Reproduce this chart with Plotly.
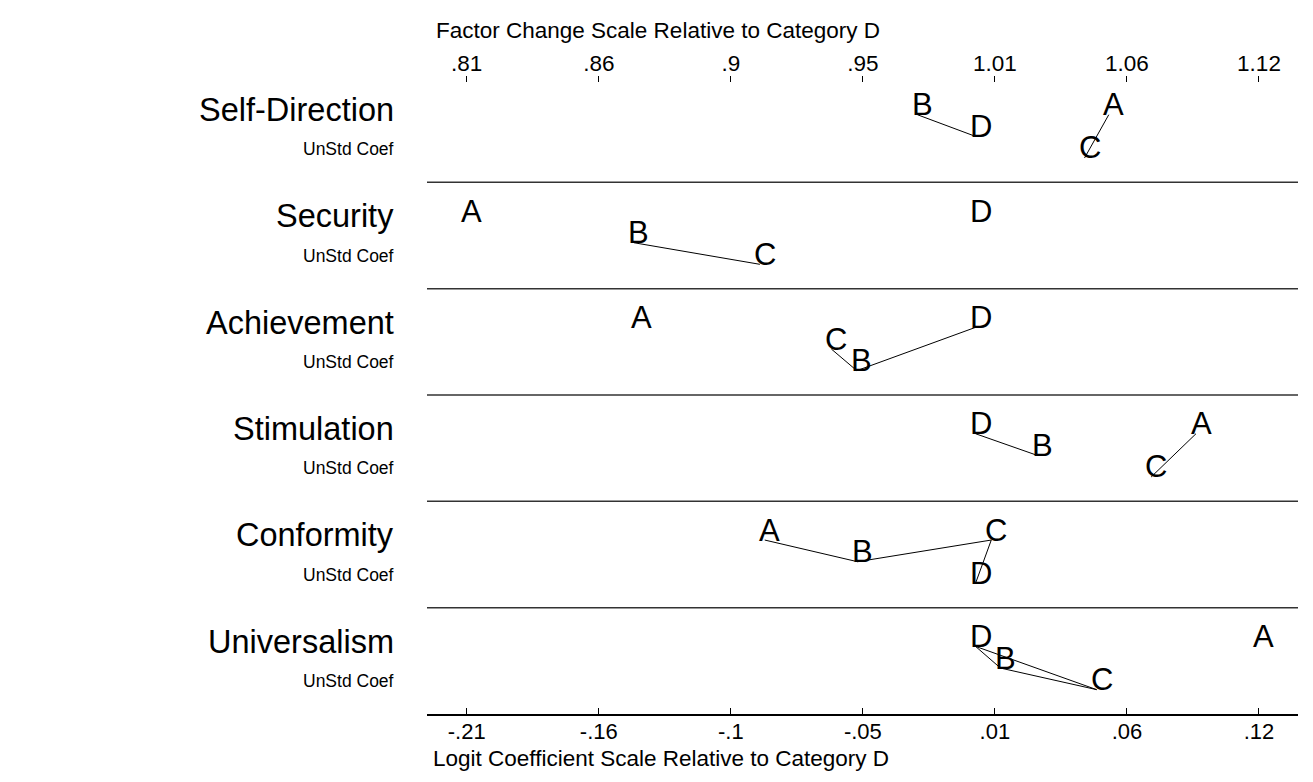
import plotly.graph_objects as go

# ---------------- data ----------------
rows = ["Self-Direction", "Security", "Achievement", "Stimulation", "Conformity", "Universalism"]
row_sublabel = "UnStd Coef"
categories = ["A", "B", "C", "D"]

# logit coefficients relative to category D
coef_A = [0.055, -0.210, -0.140, 0.091, -0.087, 0.117]
coef_B = [-0.024, -0.141, -0.049, 0.0255, -0.0487, 0.0103]
coef_C = [0.045, -0.089, -0.0595, 0.0725, 0.0065, 0.050]
coef_D = [0.0, 0.0, 0.0, 0.0, 0.0, 0.0]

# vertical tier of each letter inside its row (1 = top)
level_A = [1, 1, 1, 1, 1, 1]
level_B = [1, 2, 3, 2, 2, 2]
level_C = [3, 3, 2, 3, 1, 3]
level_D = [2, 1, 1, 1, 3, 1]

# pairs connected by a line (not significantly different)
links = [
    [("B", "D"), ("A", "C")],
    [("B", "C")],
    [("C", "B"), ("B", "D")],
    [("D", "B"), ("A", "C")],
    [("A", "B"), ("B", "C"), ("C", "D")],
    [("D", "B"), ("D", "C"), ("B", "C")],
]

tick_vals = [-0.21, -0.1555, -0.101, -0.0465, 0.008, 0.0625, 0.117]
bottom_tick_text = ["-.21", "-.16", "-.1", "-.05", ".01", ".06", ".12"]
top_tick_text = [".81", ".86", ".9", ".95", "1.01", "1.06", "1.12"]

top_title = "Factor Change Scale Relative to Category D"
bottom_title = "Logit Coefficient Scale Relative to Category D"

# ---------------- layout constants ----------------
FONT = "Liberation Sans, Arial, Helvetica, sans-serif"
level_frac = [0.364, 0.568, 0.771]
n_rows = len(rows)
x_range = [-0.2264, 0.1331]

coef = {"A": coef_A, "B": coef_B, "C": coef_C, "D": coef_D}
level = {"A": level_A, "B": level_B, "C": level_C, "D": level_D}


def ypos(r, lev):
    return (n_rows - r) - level_frac[lev - 1]


fig = go.Figure()

# connecting lines
for r, pairs in enumerate(links):
    for a, b in pairs:
        fig.add_trace(go.Scatter(
            x=[coef[a][r], coef[b][r]],
            y=[ypos(r, level[a][r]), ypos(r, level[b][r])],
            mode="lines", line=dict(color="black", width=1),
            hoverinfo="skip", showlegend=False))

# invisible trace for top axis
fig.add_trace(go.Scatter(x=x_range, y=[0, 0], xaxis="x2", yaxis="y",
                         mode="markers", marker=dict(opacity=0),
                         hoverinfo="skip", showlegend=False))

annotations = []
for r in range(n_rows):
    for c in categories:
        annotations.append(dict(
            x=coef[c][r], y=ypos(r, level[c][r]), xref="x", yref="y",
            text=c, showarrow=False, xanchor="center", yanchor="middle",
            xshift=5, yshift=10, font=dict(family=FONT, size=31, color="black")))
    annotations.append(dict(
        x=0, y=(n_rows - r) - 0.32, xref="paper", yref="y", text=rows[r],
        showarrow=False, xanchor="right", yanchor="middle", xshift=-31,
        font=dict(family=FONT, size=32.5, color="black")))
    annotations.append(dict(
        x=0, y=(n_rows - r) - 0.69, xref="paper", yref="y", text=row_sublabel,
        showarrow=False, xanchor="right", yanchor="middle", xshift=-31,
        font=dict(family=FONT, size=17.5, color="black")))

annotations.append(dict(x=0, y=1, xref="paper", yref="paper", text=top_title,
                        showarrow=False, xanchor="left", yanchor="middle",
                        xshift=7, yshift=46, font=dict(family=FONT, size=22.5, color="black")))
annotations.append(dict(x=0, y=0, xref="paper", yref="paper", text=bottom_title,
                        showarrow=False, xanchor="left", yanchor="middle",
                        xshift=4, yshift=-44, font=dict(family=FONT, size=22.5, color="black")))

shapes = []
for k in range(1, n_rows):
    shapes.append(dict(type="line", xref="paper", yref="y", x0=0, x1=1, y0=k, y1=k,
                       line=dict(color="#333333", width=1.5)))

fig.update_layout(
    width=1297, height=766,
    margin=dict(l=419, r=7, t=68, b=60),
    paper_bgcolor="white", plot_bgcolor="white",
    showlegend=False,
    xaxis=dict(range=x_range, tickvals=tick_vals, ticktext=bottom_tick_text,
               ticks="inside", ticklen=6, tickcolor="black", showline=True,
               linecolor="black", linewidth=1.5, showgrid=False, zeroline=False,
               ticklabelstandoff=-3,
               tickfont=dict(family=FONT, size=22, color="black")),
    xaxis2=dict(range=x_range, tickvals=tick_vals, ticktext=top_tick_text,
                overlaying="x", side="top", anchor="y",
                ticks="inside", ticklen=6, tickcolor="black", showline=False,
                showgrid=False, zeroline=False,
                tickfont=dict(family=FONT, size=22.5, color="black")),
    yaxis=dict(range=[0, n_rows], showticklabels=False, showgrid=False,
               zeroline=False, showline=False, ticks=""),
    annotations=annotations,
    shapes=shapes,
)

fig.write_html("out.html")
